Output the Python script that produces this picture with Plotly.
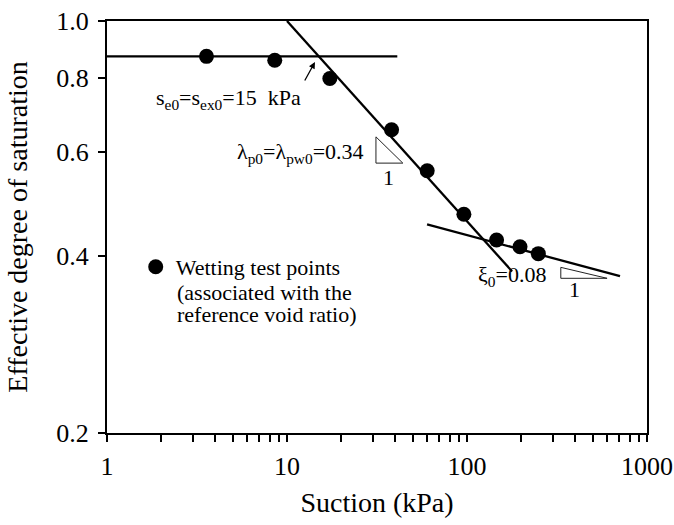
import math
import plotly.graph_objects as go

# Wetting test points (suction in kPa, effective degree of saturation)
suction = [3.57, 8.55, 17.3, 38.1, 60.1, 96.1, 146, 197, 249]
saturation = [0.871, 0.858, 0.799, 0.654, 0.557, 0.470, 0.425, 0.414, 0.403]

# Fitted lines
flat_x = [1, 41]
flat_y = [0.871, 0.871]
steep_x = [10, 178]
steep_y = [1.0, 0.376]
shallow_x = [60, 708]
shallow_y = [0.452, 0.369]

# Slope triangles
tri1_x = [31.2, 31.2, 44.0, 31.2]
tri1_y = [0.636, 0.574, 0.574, 0.636]
tri2_x = [332, 332, 600, 332]
tri2_y = [0.382, 0.366, 0.366, 0.382]

x_ticks = [1, 10, 100, 1000]
x_ticktext = ["1", "10", "100", "1000"]
x_minor = [m * d for d in (1, 10, 100) for m in range(2, 10)]
y_ticks = [0.2, 0.4, 0.6, 0.8, 1.0]
y_ticktext = ["0.2", "0.4", "0.6", "0.8", "1.0"]

FONT = "Liberation Serif, Times New Roman, DejaVu Serif, serif"
line_style = dict(color="black", width=2.3)
thin = dict(color="#222222", width=1)

fig = go.Figure()
fig.add_trace(go.Scatter(x=flat_x, y=flat_y, mode="lines", line=line_style, showlegend=False, hoverinfo="skip"))
fig.add_trace(go.Scatter(x=steep_x, y=steep_y, mode="lines", line=line_style, showlegend=False, hoverinfo="skip"))
fig.add_trace(go.Scatter(x=shallow_x, y=shallow_y, mode="lines", line=line_style, showlegend=False, hoverinfo="skip"))
fig.add_trace(go.Scatter(x=tri1_x, y=tri1_y, mode="lines", line=thin, showlegend=False, hoverinfo="skip"))
fig.add_trace(go.Scatter(x=tri2_x, y=tri2_y, mode="lines", line=thin, showlegend=False, hoverinfo="skip"))
fig.add_trace(go.Scatter(x=suction, y=saturation, mode="markers",
                         marker=dict(color="black", size=15),
                         name="Wetting test points"))

def px_to_paper_x(px):
    return (px - 107.3) / 539.7

def px_to_paper_y(py):
    return (433.3 - py) / 412.6

afont = dict(family=FONT, size=22, color="black")
annotations = [
    dict(text="s<sub>e0</sub>=s<sub>ex0</sub>=15  kPa", x=px_to_paper_x(229), y=px_to_paper_y(99),
         xanchor="center", yanchor="middle"),
    dict(text="λ<sub>p0</sub>=λ<sub>pw0</sub>=0.34", x=px_to_paper_x(366), y=px_to_paper_y(153),
         xanchor="right", yanchor="middle"),
    dict(text="1", x=px_to_paper_x(389), y=px_to_paper_y(177), xanchor="center", yanchor="middle"),
    dict(text="ξ<sub>0</sub>=0.08", x=px_to_paper_x(476), y=px_to_paper_y(276),
         xanchor="left", yanchor="middle"),
    dict(text="1", x=px_to_paper_x(575), y=px_to_paper_y(290), xanchor="center", yanchor="middle"),
    dict(text="(associated with the", x=px_to_paper_x(175), y=px_to_paper_y(293),
         xanchor="left", yanchor="middle"),
    dict(text="reference void ratio)", x=px_to_paper_x(175), y=px_to_paper_y(315),
         xanchor="left", yanchor="middle"),
]
for a in annotations:
    a.update(xref="paper", yref="paper", showarrow=False, font=afont)

# arrow pointing at the air-entry intersection
annotations.append(dict(x=math.log10(14.3), y=math.log10(0.852), xref="x", yref="y",
                        ax=-11, ay=20, axref="pixel", ayref="pixel", text="",
                        showarrow=True, arrowhead=2, arrowsize=1, arrowwidth=1.3,
                        arrowcolor="black"))

axis_common = dict(showline=True, linecolor="black", linewidth=2, mirror=True,
                   showgrid=False, zeroline=False, ticks="outside", ticklen=7,
                   tickwidth=2, tickcolor="black", automargin=False,
                   tickfont=dict(family=FONT, size=26, color="black"))

fig.update_layout(
    template="none",
    width=674, height=525,
    margin=dict(l=107, r=27, t=21, b=92),
    paper_bgcolor="white", plot_bgcolor="white",
    font=dict(family=FONT, color="black"),
    xaxis=dict(type="log", range=[0, 3], tickmode="array", tickvals=x_ticks, ticktext=x_ticktext,
               minor=dict(ticks="outside", tickmode="array", tickvals=x_minor, ticklen=7,
                          tickwidth=1.5, tickcolor="black", showgrid=False),
               ticklabelstandoff=2,
               title=dict(text="Suction (kPa)", standoff=12,
                          font=dict(family=FONT, size=28, color="black")),
               **axis_common),
    yaxis=dict(type="log", range=[math.log10(0.2), 0], tickmode="array", tickvals=y_ticks,
               ticktext=y_ticktext, ticklabelstandoff=4,
               title=dict(text="Effective degree of saturation", standoff=20,
                          font=dict(family=FONT, size=28, color="black")),
               **axis_common),
    showlegend=True,
    legend=dict(x=px_to_paper_x(136), y=px_to_paper_y(267), xanchor="left", yanchor="middle",
                bgcolor="rgba(0,0,0,0)", font=afont, itemwidth=30),
    annotations=annotations,
)

fig.write_html("out.html", config={"displayModeBar": False},
               post_script="document.body.style.margin='0';")
